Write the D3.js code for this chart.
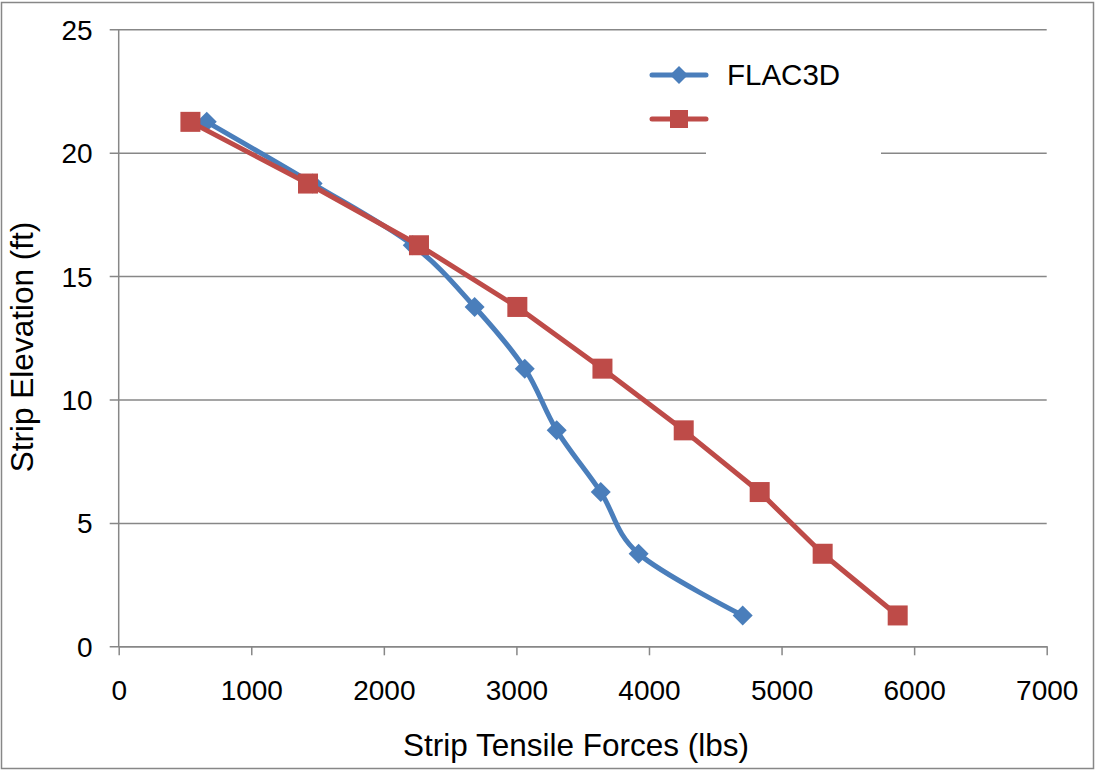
<!DOCTYPE html>
<html>
<head>
<meta charset="utf-8">
<script src="https://cdn.jsdelivr.net/npm/d3@7"></script>
<style>
  html, body { margin: 0; padding: 0; background: #fff; }
  svg { display: block; font-family: "Liberation Sans", Arial, sans-serif; }
</style>
</head>
<body>
<svg id="chart" width="1097" height="770"></svg>
<script>
// ---- data ----
const elevations = [21.25, 18.75, 16.25, 13.75, 11.25, 8.75, 6.25, 3.75, 1.25];
const flac3d = [664, 1463, 2218, 2685, 3063, 3304, 3636, 3922, 4707];
const series2 = [541, 1428, 2265, 3007, 3649, 4262, 4835, 5310, 5876];
const xTicks = [0, 1000, 2000, 3000, 4000, 5000, 6000, 7000];
const yTicks = [0, 5, 10, 15, 20, 25];
const seriesNames = ["FLAC3D", ""];

const blue = "#4A7EBB", red = "#BE4B48", grid = "#878787";

const svg = d3.select("#chart");
const x = d3.scaleLinear().domain([0, 7000]).range([118.7, 1046.7]);
const y = d3.scaleLinear().domain([0, 25]).range([646.3, 29.3]);

// outer border
svg.append("rect").attr("x", 1.5).attr("y", 2.5).attr("width", 1092).attr("height", 766)
  .attr("fill", "#fff").attr("stroke", grid).attr("stroke-width", 1.5);

// horizontal gridlines + y ticks
const yAxis = d3.axisLeft(y).tickValues(yTicks).tickSize(-(x.range()[1] - x.range()[0])).tickSizeOuter(0).tickFormat(d3.format("d"));
const gy = svg.append("g").attr("transform", `translate(${x(0)},0)`).call(yAxis);
gy.select(".domain").remove();
gy.selectAll(".tick line").attr("stroke", grid).attr("stroke-width", 1.5).attr("x1", -9);
gy.selectAll(".tick text").attr("x", -26).attr("dy", "0.36em").attr("font-size", 28).attr("fill", "#000")
  .attr("font-family", "Liberation Sans, Arial, sans-serif");

// y axis line
svg.append("line").attr("x1", x(0)).attr("x2", x(0)).attr("y1", y(25)).attr("y2", y(0))
  .attr("stroke", grid).attr("stroke-width", 1.5);

// x axis
const xAxis = d3.axisBottom(x).tickValues(xTicks).tickSize(9).tickSizeOuter(0).tickFormat(d3.format("d"));
const gx = svg.append("g").attr("transform", `translate(0,${y(0)})`).call(xAxis);
gx.select(".domain").attr("stroke", grid).attr("stroke-width", 1.5);
gx.selectAll(".tick line").attr("stroke", grid).attr("stroke-width", 1.5);
gx.selectAll(".tick text").attr("y", 54).attr("dy", 0).attr("font-size", 28).attr("fill", "#000")
  .attr("font-family", "Liberation Sans, Arial, sans-serif");

// axis titles
svg.append("text").attr("x", 576).attr("y", 756).attr("text-anchor", "middle")
  .attr("font-size", 31.5).text("Strip Tensile Forces (lbs)");
svg.append("text").attr("transform", "translate(33,347) rotate(-90)").attr("text-anchor", "middle")
  .attr("font-size", 31.5).text("Strip Elevation (ft)");

// legend box (white, covers gridline)
svg.append("rect").attr("x", 706).attr("y", 100).attr("width", 175).attr("height", 62).attr("fill", "#fff");

// series
const lineSmooth = d3.line().x(d => x(d[0])).y(d => y(d[1])).curve(d3.curveCatmullRom.alpha(0));
const lineStraight = d3.line().x(d => x(d[0])).y(d => y(d[1]));
const blueData = flac3d.map((v, i) => [v, elevations[i]]);
const redData = series2.map((v, i) => [v, elevations[i]]);

svg.append("path").attr("d", lineSmooth(blueData)).attr("fill", "none")
  .attr("stroke", blue).attr("stroke-width", 5).attr("stroke-linejoin", "round").attr("stroke-linecap", "round");
svg.selectAll(".dia").data(blueData).enter().append("path")
  .attr("transform", d => `translate(${x(d[0])},${y(d[1])})`)
  .attr("d", "M0,-10L10,0L0,10L-10,0Z").attr("fill", blue);

svg.append("path").attr("d", lineStraight(redData)).attr("fill", "none")
  .attr("stroke", red).attr("stroke-width", 5).attr("stroke-linejoin", "round").attr("stroke-linecap", "round");
svg.selectAll(".sq").data(redData).enter().append("rect")
  .attr("x", d => x(d[0]) - 10).attr("y", d => y(d[1]) - 10)
  .attr("width", 20).attr("height", 20).attr("fill", red);

// legend
const lg = svg.append("g");
lg.append("line").attr("x1", 652).attr("x2", 706).attr("y1", 75).attr("y2", 75)
  .attr("stroke", blue).attr("stroke-width", 5).attr("stroke-linecap", "round");
lg.append("path").attr("transform", "translate(679,75)").attr("d", "M0,-9L9,0L0,9L-9,0Z").attr("fill", blue);
lg.append("text").attr("x", 727).attr("y", 85).attr("font-size", 29.5).text(seriesNames[0]);
lg.append("line").attr("x1", 652).attr("x2", 706).attr("y1", 119).attr("y2", 119)
  .attr("stroke", red).attr("stroke-width", 5).attr("stroke-linecap", "round");
lg.append("rect").attr("x", 670).attr("y", 110).attr("width", 18).attr("height", 18).attr("fill", red);
lg.append("text").attr("x", 727).attr("y", 129).attr("font-size", 29.5).text(seriesNames[1]);
</script>
</body>
</html>
